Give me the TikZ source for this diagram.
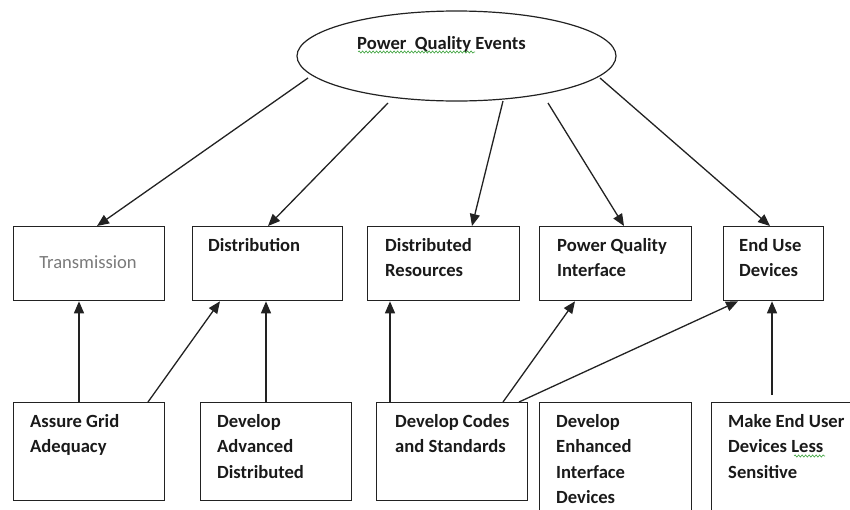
\documentclass[tikz,border=0pt]{standalone}
\usepackage{fontspec}
\setmainfont{Carlito}
\usetikzlibrary{arrows.meta,calc,shapes.geometric,decorations.pathmorphing}
\definecolor{ink}{HTML}{1A1A1A}
\definecolor{lineC}{HTML}{222222}
\definecolor{grayT}{HTML}{7A7A7A}
\definecolor{spell}{HTML}{3FA33F}
\newcommand\twol[2]{\vtop{\hbox{#1}\hbox{#2}}}
\newcommand\threel[3]{\vtop{\hbox{#1}\hbox{#2}\hbox{#3}}}
\newcommand\fourl[4]{\vtop{\hbox{#1}\hbox{#2}\hbox{#3}\hbox{#4}}}
\begin{document}
\begin{tikzpicture}[x=1pt,y=-1pt,
  box/.style={draw=lineC,line width=1.3pt,anchor=north west,inner sep=0pt,minimum width=#1},
  box/.default=151pt,
  lbl/.style={anchor=base west,inner sep=0pt,text=ink,font=\fontsize{18.6}{25.5}\selectfont\bfseries},
  arr/.style={draw=lineC,line width=1.3pt,-{Triangle[length=12pt,width=10pt]}},
  squig/.style={draw=spell,line width=0.6pt,decorate,decoration={snake,segment length=3.5pt,amplitude=1.1pt}}]
\useasboundingbox (0,0) rectangle (850,509);
\clip (0,0) rectangle (850,509);
% ellipse
\node[draw=lineC,line width=1.2pt,ellipse,minimum width=319pt,minimum height=90pt,inner sep=0pt] (pq) at (456.5,56) {};
\node[lbl] (pqt) at (357,49) {Power\ \ Quality Events};
% top boxes
\node[box=151pt,minimum height=74pt] (tr) at (13,226) {};
\node[box=150pt,minimum height=74pt] (di) at (192,226) {};
\node[box=152pt,minimum height=74pt] (dr) at (367,226) {};
\node[box=152pt,minimum height=74pt] (pi) at (539,226) {};
\node[box=100pt,minimum height=74pt] (eu) at (723,226) {};
\node[inner sep=0pt,text=grayT,font=\fontsize{18.6}{25.5}\selectfont] (trt) at (88,262) {Transmission};
\node[lbl] (dit) at (208,251) {Distribution};
\node[lbl] (drt) at (385,251) {\twol{Distributed}{Resources}};
\node[lbl] (pit) at (557,251) {\twol{Power Quality}{Interface}};
\node[lbl] (eut) at (739,251) {\twol{End Use}{Devices}};
% bottom boxes
\node[box=151pt,minimum height=98pt] (ag) at (13,402) {};
\node[box=151pt,minimum height=98pt] (da) at (200,402) {};
\node[box=151pt,minimum height=98pt] (dc) at (376,402) {};
\node[box=152pt,minimum height=125pt] (de) at (539,402) {};
\node[box=160pt,minimum height=125pt] (mu) at (711,402) {};
\node[lbl] (agt) at (30,427) {\twol{Assure Grid}{Adequacy}};
\node[lbl] (dat) at (217,427) {\threel{Develop}{Advanced}{Distributed}};
\node[lbl] (dct) at (395,427) {\twol{Develop Codes}{and Standards}};
\node[lbl] (det) at (556,427) {\fourl{Develop}{Enhanced}{Interface}{Devices}};
\node[lbl] (mut) at (728,427) {\threel{Make End User}{Devices Less}{Sensitive}};
% spell-check squiggles
\draw[squig] ($(pqt.base west)+(1,3)$) -- ++(117,0);
\coordinate (lessq) at (794,456);
\draw[squig] (lessq) -- ++(31,0);
% arrows from the ellipse
\coordinate (s1) at (308,78);
\coordinate (s2) at (388,103);
\coordinate (s3) at (503,101);
\coordinate (s4) at (548,103);
\coordinate (s5) at (600,78);
\draw[arr] (s1) -- ($(tr.north west)+(84,0)$);
\draw[arr] (s2) -- ($(di.north west)+(76,0)$);
\draw[arr] (s3) -- ($(dr.north west)+(105,0)$);
\draw[arr] (s4) -- ($(pi.north west)+(85,0)$);
\draw[arr] (s5) -- ($(eu.north west)+(47,0)$);
% arrows from the bottom boxes
\draw[arr] ($(ag.north west)+(66,0)$) -- ($(tr.south west)+(66,0)$);
\draw[arr] ($(ag.north west)+(135,0)$) -- ($(di.south west)+(28,0)$);
\draw[arr] ($(da.north west)+(66,0)$) -- ($(di.south west)+(74,0)$);
\draw[arr] ($(dc.north west)+(14,0)$) -- ($(dr.south west)+(23,0)$);
\draw[arr] ($(dc.north west)+(127,0)$) -- ($(pi.south west)+(36,0)$);
\draw[arr] ($(dc.north west)+(143,0)$) -- ($(eu.south west)+(15,0)$);
\coordinate (s12) at (772,395);
\draw[arr] (s12) -- ($(eu.south west)+(49,0)$);
\end{tikzpicture}
\end{document}
